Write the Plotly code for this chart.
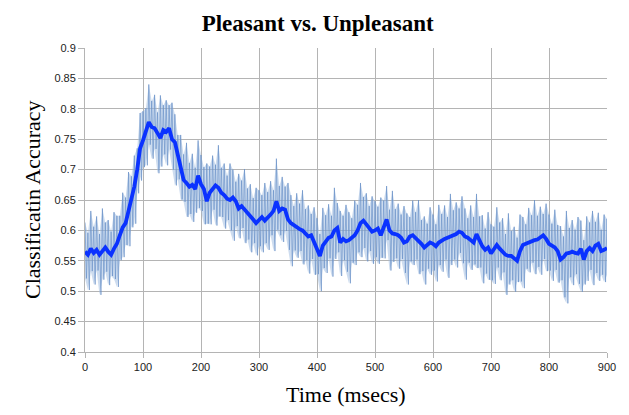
import plotly.graph_objects as go

# time axis (ms), 5 ms steps
time_ms = list(range(0, 905, 5))

# mean classification accuracy (thick blue line)
mean_acc = [
    0.565, 0.560, 0.570, 0.563, 0.568, 0.560, 0.566, 0.572, 0.565, 0.560,
    0.570, 0.578, 0.592, 0.605, 0.612, 0.630, 0.650, 0.672, 0.700, 0.735,
    0.748, 0.765, 0.778, 0.770, 0.768, 0.760, 0.752, 0.765, 0.762, 0.768,
    0.750, 0.745, 0.725, 0.700, 0.683, 0.678, 0.672, 0.675, 0.668, 0.690,
    0.676, 0.668, 0.648, 0.662, 0.668, 0.674, 0.670, 0.662, 0.658, 0.652,
    0.650, 0.654, 0.648, 0.636, 0.640, 0.635, 0.630, 0.625, 0.618, 0.612,
    0.618, 0.622, 0.616, 0.620, 0.626, 0.632, 0.648, 0.632, 0.636, 0.634,
    0.618, 0.612, 0.608, 0.604, 0.602, 0.600, 0.596, 0.590, 0.592, 0.580,
    0.572, 0.558, 0.575, 0.582, 0.588, 0.590, 0.600, 0.604, 0.580, 0.586,
    0.582, 0.584, 0.588, 0.592, 0.600, 0.612, 0.616, 0.610, 0.605, 0.598,
    0.600, 0.603, 0.592, 0.606, 0.618, 0.600, 0.595, 0.594, 0.592, 0.588,
    0.580, 0.582, 0.590, 0.592, 0.588, 0.584, 0.578, 0.572, 0.576, 0.580,
    0.578, 0.574, 0.580, 0.584, 0.586, 0.588, 0.590, 0.592, 0.594, 0.598,
    0.596, 0.590, 0.588, 0.584, 0.580, 0.594, 0.584, 0.574, 0.568, 0.572,
    0.562, 0.570, 0.576, 0.570, 0.565, 0.560, 0.558, 0.558, 0.554, 0.550,
    0.566, 0.576, 0.578, 0.580, 0.583, 0.584, 0.585, 0.588, 0.592, 0.586,
    0.578, 0.575, 0.572, 0.566, 0.552, 0.556, 0.562, 0.563, 0.565, 0.563,
    0.562, 0.570, 0.552, 0.566, 0.571, 0.566, 0.575, 0.578, 0.566, 0.568,
    0.571,
]

# upper excursions of the light-blue raw trace
raw_high = [
    0.613, 0.596, 0.632, 0.606, 0.623, 0.594, 0.636, 0.613, 0.617, 0.598,
    0.630, 0.624, 0.624, 0.662, 0.654, 0.696, 0.689, 0.723, 0.735, 0.793,
    0.796, 0.801, 0.840, 0.813, 0.823, 0.794, 0.822, 0.806, 0.814, 0.806,
    0.810, 0.791, 0.757, 0.757, 0.725, 0.744, 0.711, 0.726, 0.703, 0.748,
    0.724, 0.704, 0.710, 0.705, 0.723, 0.708, 0.740, 0.703, 0.710, 0.690,
    0.710, 0.700, 0.680, 0.693, 0.682, 0.701, 0.669, 0.676, 0.653, 0.670,
    0.666, 0.658, 0.678, 0.663, 0.681, 0.666, 0.718, 0.673, 0.688, 0.672,
    0.678, 0.658, 0.640, 0.661, 0.644, 0.666, 0.635, 0.641, 0.627, 0.638,
    0.620, 0.594, 0.637, 0.625, 0.643, 0.624, 0.670, 0.645, 0.632, 0.624,
    0.642, 0.630, 0.620, 0.649, 0.642, 0.678, 0.655, 0.661, 0.640, 0.656,
    0.648, 0.639, 0.654, 0.649, 0.673, 0.634, 0.665, 0.635, 0.644, 0.626,
    0.640, 0.628, 0.622, 0.649, 0.630, 0.650, 0.617, 0.623, 0.611, 0.638,
    0.626, 0.610, 0.642, 0.627, 0.641, 0.622, 0.660, 0.633, 0.646, 0.636,
    0.656, 0.636, 0.620, 0.641, 0.622, 0.660, 0.623, 0.625, 0.603, 0.630,
    0.610, 0.606, 0.638, 0.613, 0.620, 0.594, 0.628, 0.599, 0.606, 0.588,
    0.626, 0.622, 0.610, 0.637, 0.625, 0.650, 0.624, 0.639, 0.627, 0.644,
    0.626, 0.611, 0.634, 0.609, 0.607, 0.590, 0.632, 0.604, 0.617, 0.601,
    0.622, 0.616, 0.584, 0.623, 0.613, 0.632, 0.614, 0.629, 0.601, 0.626,
    0.619,
]

# lower excursions of the light-blue raw trace
raw_low = [
    0.521, 0.502, 0.533, 0.511, 0.534, 0.494, 0.519, 0.532, 0.510, 0.525,
    0.520, 0.507, 0.551, 0.556, 0.576, 0.574, 0.605, 0.611, 0.661, 0.682,
    0.704, 0.707, 0.741, 0.718, 0.734, 0.694, 0.705, 0.725, 0.707, 0.733,
    0.700, 0.674, 0.684, 0.651, 0.647, 0.622, 0.627, 0.614, 0.629, 0.637,
    0.632, 0.610, 0.611, 0.610, 0.634, 0.608, 0.623, 0.622, 0.603, 0.617,
    0.600, 0.583, 0.607, 0.587, 0.604, 0.579, 0.585, 0.564, 0.579, 0.559,
    0.574, 0.564, 0.579, 0.568, 0.592, 0.566, 0.601, 0.592, 0.581, 0.599,
    0.568, 0.541, 0.567, 0.555, 0.566, 0.544, 0.551, 0.529, 0.553, 0.527,
    0.528, 0.500, 0.538, 0.530, 0.554, 0.524, 0.553, 0.564, 0.525, 0.551,
    0.532, 0.513, 0.547, 0.543, 0.564, 0.556, 0.571, 0.549, 0.566, 0.545,
    0.556, 0.545, 0.555, 0.554, 0.584, 0.534, 0.548, 0.554, 0.537, 0.553,
    0.530, 0.511, 0.549, 0.543, 0.552, 0.528, 0.533, 0.511, 0.537, 0.527,
    0.534, 0.516, 0.543, 0.532, 0.552, 0.522, 0.543, 0.552, 0.539, 0.563,
    0.546, 0.519, 0.547, 0.535, 0.544, 0.538, 0.539, 0.513, 0.529, 0.519,
    0.518, 0.512, 0.539, 0.518, 0.531, 0.494, 0.511, 0.518, 0.499, 0.515,
    0.516, 0.505, 0.537, 0.531, 0.547, 0.528, 0.540, 0.527, 0.553, 0.533,
    0.534, 0.517, 0.535, 0.514, 0.518, 0.490, 0.480, 0.523, 0.510, 0.528,
    0.512, 0.499, 0.511, 0.517, 0.535, 0.510, 0.530, 0.517, 0.527, 0.515,
    0.527,
]

x_ticks = [0, 100, 200, 300, 400, 500, 600, 700, 800, 900]
y_ticks = [0.4, 0.45, 0.5, 0.55, 0.6, 0.65, 0.7, 0.75, 0.8, 0.85, 0.9]
y_tick_text = ["0.4", "0.45", "0.5", "0.55", "0.6", "0.65", "0.7", "0.75", "0.8", "0.85", "0.9"]

# interleave the upper and lower excursions into one zig-zag raw trace
raw_x, raw_y = [], []
for t, hi, lo in zip(time_ms, raw_high, raw_low):
    raw_x += [t, t + 2.5]
    raw_y += [hi, lo]

fig = go.Figure()
# pale envelope of the raw trace
fig.add_trace(go.Scatter(
    x=time_ms, y=raw_high, mode="lines", line=dict(width=0),
    hoverinfo="skip", showlegend=False,
))
fig.add_trace(go.Scatter(
    x=time_ms, y=raw_low, mode="lines", line=dict(width=0),
    fill="tonexty", fillcolor="rgba(155,186,224,0.5)",
    hoverinfo="skip", showlegend=False,
))
# raw jagged trace
fig.add_trace(go.Scatter(
    x=raw_x, y=raw_y, mode="lines",
    line=dict(color="rgba(105,145,200,0.65)", width=1),
    hoverinfo="skip", showlegend=False,
))
# mean line
fig.add_trace(go.Scatter(
    x=time_ms, y=mean_acc, mode="lines",
    line=dict(color="#0a32ff", width=3.8),
    showlegend=False,
))

grid = "#b4b4b4"
serif = "Liberation Serif"
fig.update_layout(
    width=629, height=415,
    margin=dict(l=85, r=22, t=48, b=63, autoexpand=False),
    paper_bgcolor="white", plot_bgcolor="white",
    title=dict(
        text="<b>Pleasant vs. Unpleasant</b>",
        font=dict(family=serif, size=23, color="black"),
        x=0.505, xref="container", xanchor="center",
        y=0.945, yref="container", yanchor="middle",
    ),
    xaxis=dict(
        range=[0, 900], tickvals=x_ticks, ticktext=[str(v) for v in x_ticks],
        showgrid=True, gridcolor=grid, gridwidth=1,
        showline=True, linecolor=grid, linewidth=1,
        ticks="outside", ticklen=5, tickcolor=grid,
        tickfont=dict(family="Liberation Sans", size=11, color="#222222"),
        zeroline=False, automargin=False,
    ),
    yaxis=dict(
        range=[0.4, 0.9], tickvals=y_ticks, ticktext=y_tick_text,
        showgrid=True, gridcolor=grid, gridwidth=1,
        showline=True, linecolor=grid, linewidth=1,
        ticks="outside", ticklen=6, tickcolor=grid,
        tickfont=dict(family="Liberation Sans", size=11, color="#222222"),
        zeroline=False, automargin=False,
    ),
    annotations=[
        dict(text="Time (msecs)", xref="paper", yref="paper", x=0.5, y=-0.141,
             xanchor="center", yanchor="middle", showarrow=False,
             font=dict(family=serif, size=22, color="black")),
        dict(text="Classificatin Accuracy", xref="paper", yref="paper", x=-0.1015, y=0.5,
             xanchor="center", yanchor="middle", showarrow=False, textangle=-90,
             font=dict(family=serif, size=22, color="black")),
    ],
)

fig.write_html(
    "out.html",
    config={"displayModeBar": False},
    post_script="document.body.style.margin='0';document.body.style.padding='0';",
)
